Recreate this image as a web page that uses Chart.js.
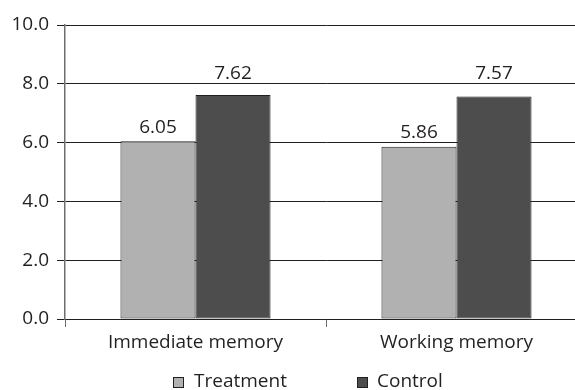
<!DOCTYPE html>
<html>
<head>
<meta charset="utf-8">
<script src="https://cdn.jsdelivr.net/npm/chart.js@4.4.0/dist/chart.umd.min.js"></script>
<style>
  html, body { margin: 0; padding: 0; overflow: hidden; background: #fff; }
</style>
</head>
<body>
<canvas id="myChart" width="590" height="390"></canvas>
<script>
// data
const categories = ['Immediate memory', 'Working memory'];
const seriesNames = ['Treatment', 'Control'];
const treatment = [6.05, 5.86];
const control = [7.62, 7.57];
const yTicks = [0, 2, 4, 6, 8, 10];

const ink = '#231f20';
const axisGrey = '#6d6e71';
const colors = ['#b1b1b1', '#4d4d4d'];
const font = { family: 'Open Sans', size: 19 };

// value labels on top of bars, lifted above a gridline if one is in the way
const barLabels = {
  id: 'barLabels',
  afterDatasetsDraw(chart) {
    const ctx = chart.ctx;
    const yScale = chart.scales.y;
    ctx.save();
    ctx.font = font.size + 'px ' + font.family;
    ctx.fillStyle = ink;
    ctx.textAlign = 'center';
    ctx.textBaseline = 'alphabetic';
    chart.data.datasets.forEach((ds, di) => {
      chart.getDatasetMeta(di).data.forEach((bar, i) => {
        let y = bar.y - 8;
        yTicks.forEach(v => {
          const gy = yScale.getPixelForValue(v);
          if (gy < bar.y - 1 && gy > y - 16) y = gy - 5;
        });
        ctx.fillText(ds.data[i].toFixed(2), bar.x, y);
      });
    });
    ctx.restore();
  }
};

// legend below the plot
const bottomLegend = {
  id: 'bottomLegend',
  afterDraw(chart) {
    const ctx = chart.ctx;
    const spots = [[173, 194], [357, 377]];
    ctx.save();
    ctx.font = font.size + 'px ' + font.family;
    ctx.textBaseline = 'alphabetic';
    ctx.textAlign = 'left';
    chart.data.datasets.forEach((ds, i) => {
      const [bx, tx] = spots[i];
      ctx.fillStyle = ds.backgroundColor;
      ctx.fillRect(bx, 377, 10, 10);
      ctx.strokeStyle = ink;
      ctx.lineWidth = 1;
      ctx.strokeRect(bx + 0.5, 377.5, 10, 10);
      ctx.fillStyle = ink;
      ctx.fillText(ds.label, tx, 387);
    });
    ctx.restore();
  }
};

new Chart(document.getElementById('myChart'), {
  type: 'bar',
  data: {
    labels: categories,
    datasets: [
      { label: seriesNames[0], data: treatment, backgroundColor: colors[0], borderColor: ink, borderWidth: 1, borderSkipped: false },
      { label: seriesNames[1], data: control, backgroundColor: colors[1], borderColor: ink, borderWidth: 1, borderSkipped: false }
    ]
  },
  options: {
    responsive: false,
    animation: false,
    categoryPercentage: 0.575,
    barPercentage: 1,
    layout: { padding: { top: 25, right: 3, bottom: 26, left: 0 } },
    plugins: {
      legend: { display: false },
      tooltip: { enabled: false }
    },
    scales: {
      x: {
        offset: true,
        grid: { offset: true, drawOnChartArea: false, drawTicks: true, tickLength: 8, color: axisGrey },
        border: { color: ink, width: 1 },
        ticks: { color: ink, font: font, padding: 4 },
        afterFit: s => { s.height = 45; }
      },
      y: {
        min: 0,
        max: 10,
        afterBuildTicks: s => { s.ticks = yTicks.map(v => ({ value: v })); },
        grid: { color: ink, lineWidth: 1, tickLength: 8, drawTicks: true },
        border: { color: axisGrey, width: 1.5 },
        ticks: { color: ink, font: font, padding: 8, callback: v => v.toFixed(1) },
        afterFit: s => { s.width = 65; }
      }
    }
  },
  plugins: [barLabels, bottomLegend]
});
</script>
</body>
</html>
